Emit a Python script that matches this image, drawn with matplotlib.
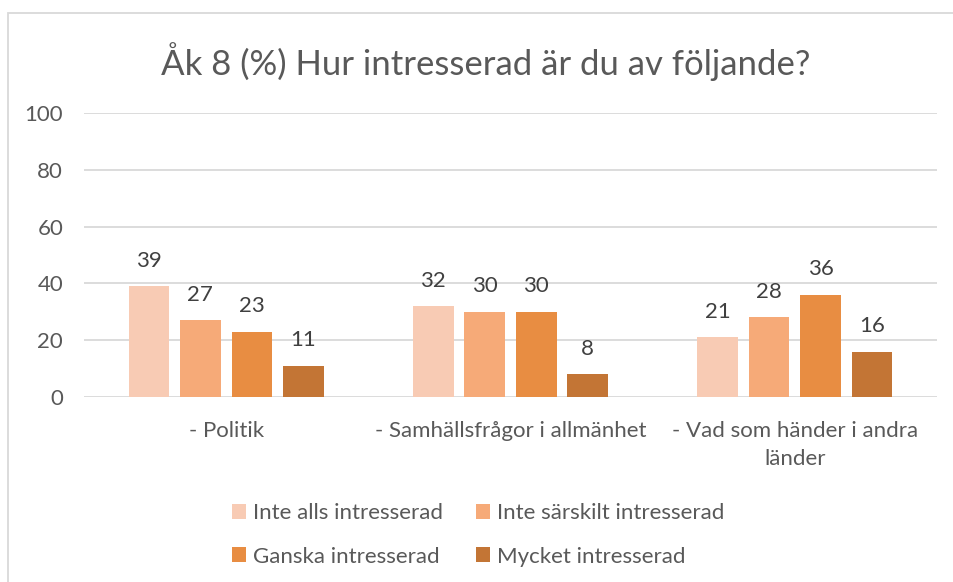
import matplotlib.pyplot as plt
import numpy as np
from matplotlib.patches import Rectangle

# === data ===
categories = ["- Politik", "- Samhällsfrågor i allmänhet", "- Vad som händer i andra\nländer"]
series = ["Inte alls intresserad", "Inte särskilt intresserad",
          "Ganska intresserad", "Mycket intresserad"]
values = [
    [39, 32, 21],
    [27, 30, 28],
    [23, 30, 36],
    [11, 8, 16],
]
colors = ["#F8CBB4", "#F6AA78", "#E88D42", "#C37535"]
yticks = [0, 20, 40, 60, 80, 100]

plt.rcParams['font.family'] = ['Lato', 'DejaVu Sans']
txt = "#595959"
fs = 16

W, H = 954, 582
fig = plt.figure(figsize=(W / 100, H / 100), dpi=100)

# chart frame
fig.patches.append(Rectangle((8 / W, -0.1), 1.2, 1 - 13 / H + 0.1,
                             transform=fig.transFigure, fill=False,
                             edgecolor="#D9D9D9", linewidth=1.3))

ax = fig.add_axes([84 / W, 1 - 397 / H, (937 - 84) / W, (397 - 113) / H])

x = np.arange(len(categories))
step = 0.181
width = 0.143
bars = []
for i, (s, vals) in enumerate(zip(series, values)):
    pos = x + (i - 1.5) * step
    b = ax.bar(pos, vals, width=width, color=colors[i], label=s, zorder=3)
    bars.append(b)
    for p, v in zip(pos, vals):
        ax.text(p, v + 9, str(v), ha="center", va="center",
                fontsize=fs, color="#404040")

ax.set_xlim(-0.5, len(categories) - 0.5)
ax.set_ylim(0, 100)
ax.set_yticks(yticks)
ax.yaxis.grid(True, color="#D9D9D9", linewidth=1.3, zorder=0)
for sp in ax.spines.values():
    sp.set_visible(False)
ax.tick_params(axis="y", length=0, labelsize=fs, labelcolor=txt, pad=15)
ax.tick_params(axis="x", length=0, labelsize=fs, labelcolor=txt, pad=17)
ax.set_xticks(x)
ax.set_xticklabels(categories, va="top", linespacing=1.5)

fig.text(486 / W, 1 - 62 / H, "Åk 8 (%) Hur intresserad är du av följande?",
         ha="center", va="center", fontsize=25, color=txt)

# row-major legend order
order = [0, 2, 1, 3]
fig.legend([bars[k] for k in order], [series[k] for k in order],
           loc="center", bbox_to_anchor=(478 / W, 1 - 535 / H), ncol=2,
           frameon=False, fontsize=fs, labelcolor=txt,
           handlelength=0.65, handleheight=0.65, handletextpad=0.3,
           columnspacing=1.5, labelspacing=1.05)

fig.savefig("out.png", dpi=100)
